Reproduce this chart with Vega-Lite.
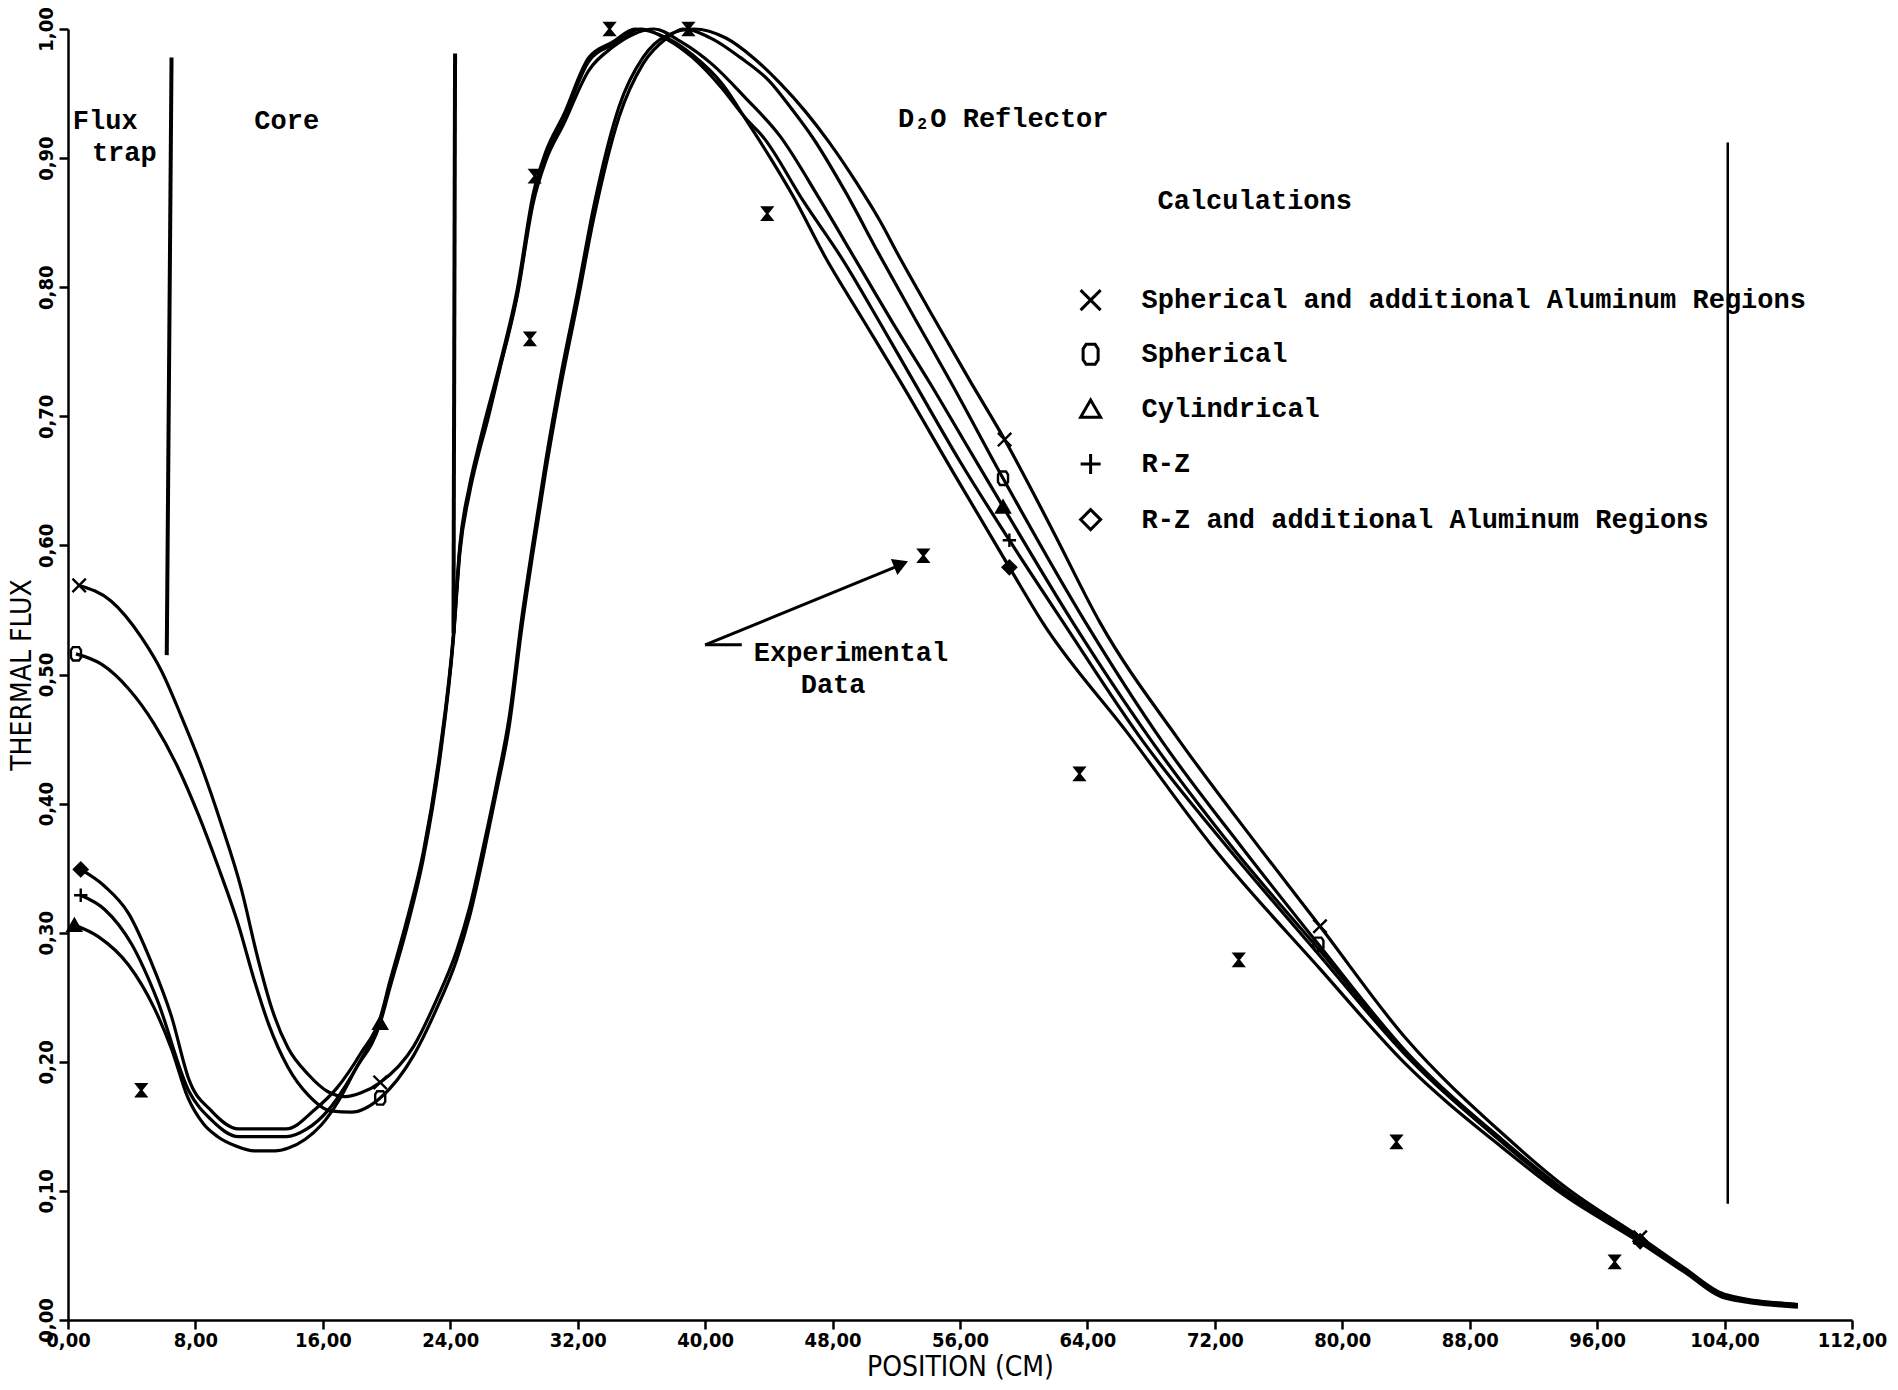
{
  "$schema": "https://vega.github.io/schema/vega-lite/v6.json",
  "width": 1784,
  "height": 1291,
  "autosize": {"type": "none"},
  "padding": {"left": 68, "top": 29, "right": 46, "bottom": 70},
  "background": "white",
  "config": {
    "view": {"stroke": null},
    "axis": {
      "domainColor": "black", "domainWidth": 2.5,
      "tickColor": "black", "tickWidth": 2.5, "tickSize": 9,
      "labelColor": "black", "labelFont": "'Liberation Sans Narrow', 'DejaVu Sans Condensed', sans-serif",
      "labelFontSize": 20, "labelFontWeight": "bold",
      "titleColor": "black", "titleFont": "'Liberation Sans Narrow', 'DejaVu Sans Condensed', sans-serif",
      "titleFontSize": 28, "titleFontWeight": "normal",
      "grid": false, "labelFlush": false, "labelOverlap": false
    }
  },
  "datasets": {
    "curves": [
      {"s":"X","x":0.7,"y":0.569},{"s":"X","x":2.7,"y":0.557},{"s":"X","x":4.6,"y":0.529},{"s":"X","x":5.9,"y":0.502},{"s":"X","x":7.1,"y":0.468},{"s":"X","x":8.4,"y":0.428},{"s":"X","x":9.6,"y":0.385},{"s":"X","x":10.9,"y":0.333},{"s":"X","x":11.9,"y":0.281},{"s":"X","x":12.8,"y":0.241},{"s":"X","x":13.8,"y":0.211},{"s":"X","x":15.1,"y":0.19},{"s":"X","x":16.3,"y":0.177},{"s":"X","x":17.4,"y":0.173},{"s":"X","x":18.4,"y":0.176},{"s":"X","x":19.6,"y":0.184},{"s":"X","x":21.7,"y":0.212},{"s":"X","x":23.1,"y":0.247},{"s":"X","x":24.4,"y":0.286},{"s":"X","x":25.2,"y":0.319},{"s":"X","x":26.1,"y":0.368},{"s":"X","x":26.9,"y":0.415},{"s":"X","x":27.7,"y":0.467},{"s":"X","x":28.5,"y":0.545},{"s":"X","x":29.2,"y":0.603},{"s":"X","x":30.0,"y":0.666},{"s":"X","x":30.9,"y":0.729},{"s":"X","x":32.0,"y":0.797},{"s":"X","x":33.0,"y":0.862},{"s":"X","x":34.6,"y":0.94},{"s":"X","x":36.1,"y":0.978},{"s":"X","x":37.6,"y":0.995},{"s":"X","x":39.3,"y":1.0},{"s":"X","x":41.3,"y":0.993},{"s":"X","x":43.0,"y":0.978},{"s":"X","x":44.7,"y":0.958},{"s":"X","x":46.3,"y":0.936},{"s":"X","x":47.8,"y":0.912},{"s":"X","x":49.5,"y":0.881},{"s":"X","x":50.9,"y":0.853},{"s":"X","x":52.3,"y":0.821},{"s":"X","x":54.5,"y":0.773},{"s":"X","x":56.6,"y":0.728},{"s":"X","x":58.8,"y":0.682},{"s":"X","x":61.8,"y":0.612},{"s":"X","x":64.8,"y":0.54},{"s":"X","x":69.7,"y":0.45},{"s":"X","x":74.6,"y":0.369},{"s":"X","x":78.6,"y":0.305},{"s":"X","x":84.0,"y":0.218},{"s":"X","x":90.0,"y":0.145},{"s":"X","x":94.0,"y":0.103},{"s":"X","x":98.7,"y":0.064},{"s":"X","x":101.5,"y":0.04},{"s":"X","x":104.0,"y":0.02},{"s":"X","x":108.6,"y":0.012},
      {"s":"O","x":0.5,"y":0.516},{"s":"O","x":2.1,"y":0.508},{"s":"O","x":3.8,"y":0.489},{"s":"O","x":5.4,"y":0.462},{"s":"O","x":6.9,"y":0.428},{"s":"O","x":8.2,"y":0.391},{"s":"O","x":9.4,"y":0.352},{"s":"O","x":10.7,"y":0.306},{"s":"O","x":11.7,"y":0.263},{"s":"O","x":12.6,"y":0.229},{"s":"O","x":13.8,"y":0.196},{"s":"O","x":15.1,"y":0.174},{"s":"O","x":16.5,"y":0.162},{"s":"O","x":17.8,"y":0.161},{"s":"O","x":19.6,"y":0.172},{"s":"O","x":21.7,"y":0.205},{"s":"O","x":23.1,"y":0.24},{"s":"O","x":24.4,"y":0.279},{"s":"O","x":25.2,"y":0.312},{"s":"O","x":26.1,"y":0.361},{"s":"O","x":26.9,"y":0.409},{"s":"O","x":27.7,"y":0.46},{"s":"O","x":28.5,"y":0.537},{"s":"O","x":29.2,"y":0.595},{"s":"O","x":30.0,"y":0.658},{"s":"O","x":30.9,"y":0.721},{"s":"O","x":32.0,"y":0.789},{"s":"O","x":33.0,"y":0.853},{"s":"O","x":34.6,"y":0.932},{"s":"O","x":36.1,"y":0.973},{"s":"O","x":37.6,"y":0.993},{"s":"O","x":38.6,"y":1.0},{"s":"O","x":40.5,"y":0.992},{"s":"O","x":42.2,"y":0.978},{"s":"O","x":44.0,"y":0.96},{"s":"O","x":45.5,"y":0.937},{"s":"O","x":46.8,"y":0.915},{"s":"O","x":48.8,"y":0.874},{"s":"O","x":50.9,"y":0.826},{"s":"O","x":53.2,"y":0.775},{"s":"O","x":55.4,"y":0.727},{"s":"O","x":58.7,"y":0.652},{"s":"O","x":63.9,"y":0.54},{"s":"O","x":68.7,"y":0.448},{"s":"O","x":73.7,"y":0.366},{"s":"O","x":78.5,"y":0.291},{"s":"O","x":84.0,"y":0.208},{"s":"O","x":90.0,"y":0.14},{"s":"O","x":94.0,"y":0.1},{"s":"O","x":98.7,"y":0.062},{"s":"O","x":101.5,"y":0.039},{"s":"O","x":104.0,"y":0.019},{"s":"O","x":108.6,"y":0.012},
      {"s":"T","x":0.4,"y":0.306},{"s":"T","x":1.9,"y":0.297},{"s":"T","x":3.8,"y":0.275},{"s":"T","x":5.4,"y":0.242},{"s":"T","x":6.5,"y":0.21},{"s":"T","x":7.5,"y":0.173},{"s":"T","x":8.5,"y":0.152},{"s":"T","x":9.4,"y":0.142},{"s":"T","x":10.5,"y":0.135},{"s":"T","x":11.7,"y":0.131},{"s":"T","x":13.0,"y":0.131},{"s":"T","x":13.8,"y":0.133},{"s":"T","x":14.9,"y":0.14},{"s":"T","x":15.9,"y":0.151},{"s":"T","x":17.0,"y":0.17},{"s":"T","x":18.0,"y":0.193},{"s":"T","x":19.6,"y":0.23},{"s":"T","x":20.2,"y":0.257},{"s":"T","x":21.3,"y":0.305},{"s":"T","x":22.3,"y":0.357},{"s":"T","x":23.35,"y":0.435},{"s":"T","x":24.2,"y":0.528},{"s":"T","x":24.6,"y":0.594},{"s":"T","x":25.2,"y":0.64},{"s":"T","x":25.8,"y":0.672},{"s":"T","x":26.3,"y":0.695},{"s":"T","x":27.1,"y":0.736},{"s":"T","x":28.2,"y":0.793},{"s":"T","x":29.2,"y":0.865},{"s":"T","x":30.0,"y":0.898},{"s":"T","x":31.1,"y":0.926},{"s":"T","x":32.7,"y":0.968},{"s":"T","x":34.2,"y":0.986},{"s":"T","x":35.5,"y":0.996},{"s":"T","x":36.8,"y":1.0},{"s":"T","x":38.5,"y":0.99},{"s":"T","x":40.5,"y":0.972},{"s":"T","x":42.5,"y":0.947},{"s":"T","x":44.7,"y":0.917},{"s":"T","x":47.2,"y":0.868},{"s":"T","x":49.5,"y":0.82},{"s":"T","x":51.8,"y":0.772},{"s":"T","x":54.1,"y":0.726},{"s":"T","x":56.4,"y":0.678},{"s":"T","x":58.7,"y":0.63},{"s":"T","x":63.1,"y":0.54},{"s":"T","x":68.0,"y":0.449},{"s":"T","x":73.1,"y":0.366},{"s":"T","x":78.6,"y":0.286},{"s":"T","x":84.0,"y":0.207},{"s":"T","x":90.0,"y":0.139},{"s":"T","x":94.0,"y":0.099},{"s":"T","x":98.7,"y":0.061},{"s":"T","x":101.5,"y":0.038},{"s":"T","x":104.0,"y":0.018},{"s":"T","x":108.6,"y":0.011},
      {"s":"P","x":0.8,"y":0.329},{"s":"P","x":2.3,"y":0.318},{"s":"P","x":4.0,"y":0.291},{"s":"P","x":5.6,"y":0.248},{"s":"P","x":7.6,"y":0.177},{"s":"P","x":9.0,"y":0.155},{"s":"P","x":10.7,"y":0.142},{"s":"P","x":13.7,"y":0.142},{"s":"P","x":15.0,"y":0.148},{"s":"P","x":16.3,"y":0.162},{"s":"P","x":17.5,"y":0.183},{"s":"P","x":18.4,"y":0.202},{"s":"P","x":19.6,"y":0.232},{"s":"P","x":20.2,"y":0.26},{"s":"P","x":21.3,"y":0.308},{"s":"P","x":22.3,"y":0.36},{"s":"P","x":23.35,"y":0.438},{"s":"P","x":24.2,"y":0.53},{"s":"P","x":24.6,"y":0.597},{"s":"P","x":25.2,"y":0.643},{"s":"P","x":25.8,"y":0.675},{"s":"P","x":26.1,"y":0.69},{"s":"P","x":27.1,"y":0.737},{"s":"P","x":28.2,"y":0.795},{"s":"P","x":29.2,"y":0.868},{"s":"P","x":30.0,"y":0.902},{"s":"P","x":31.1,"y":0.93},{"s":"P","x":32.7,"y":0.975},{"s":"P","x":34.2,"y":0.988},{"s":"P","x":36.0,"y":1.0},{"s":"P","x":37.6,"y":0.992},{"s":"P","x":39.2,"y":0.978},{"s":"P","x":41.0,"y":0.955},{"s":"P","x":42.6,"y":0.93},{"s":"P","x":43.6,"y":0.917},{"s":"P","x":46.2,"y":0.866},{"s":"P","x":48.7,"y":0.82},{"s":"P","x":50.9,"y":0.774},{"s":"P","x":53.0,"y":0.729},{"s":"P","x":56.0,"y":0.665},{"s":"P","x":59.1,"y":0.604},{"s":"P","x":62.5,"y":0.54},{"s":"P","x":67.5,"y":0.448},{"s":"P","x":72.8,"y":0.366},{"s":"P","x":78.6,"y":0.282},{"s":"P","x":84.0,"y":0.205},{"s":"P","x":90.0,"y":0.138},{"s":"P","x":94.0,"y":0.098},{"s":"P","x":98.7,"y":0.061},{"s":"P","x":101.5,"y":0.038},{"s":"P","x":104.0,"y":0.018},{"s":"P","x":108.6,"y":0.011},
      {"s":"D","x":0.8,"y":0.349},{"s":"D","x":2.3,"y":0.336},{"s":"D","x":3.8,"y":0.315},{"s":"D","x":5.2,"y":0.278},{"s":"D","x":6.5,"y":0.235},{"s":"D","x":7.6,"y":0.186},{"s":"D","x":9.0,"y":0.162},{"s":"D","x":10.7,"y":0.148},{"s":"D","x":13.7,"y":0.148},{"s":"D","x":15.5,"y":0.163},{"s":"D","x":16.9,"y":0.18},{"s":"D","x":18.4,"y":0.207},{"s":"D","x":19.6,"y":0.234},{"s":"D","x":20.2,"y":0.262},{"s":"D","x":21.3,"y":0.311},{"s":"D","x":22.3,"y":0.362},{"s":"D","x":23.35,"y":0.441},{"s":"D","x":24.2,"y":0.532},{"s":"D","x":24.6,"y":0.6},{"s":"D","x":25.2,"y":0.646},{"s":"D","x":25.8,"y":0.678},{"s":"D","x":26.1,"y":0.693},{"s":"D","x":27.1,"y":0.74},{"s":"D","x":28.2,"y":0.798},{"s":"D","x":29.2,"y":0.872},{"s":"D","x":30.0,"y":0.905},{"s":"D","x":31.1,"y":0.933},{"s":"D","x":32.7,"y":0.978},{"s":"D","x":34.2,"y":0.99},{"s":"D","x":35.6,"y":1.0},{"s":"D","x":37.6,"y":0.993},{"s":"D","x":39.2,"y":0.98},{"s":"D","x":41.1,"y":0.957},{"s":"D","x":42.6,"y":0.929},{"s":"D","x":44.1,"y":0.9},{"s":"D","x":45.5,"y":0.871},{"s":"D","x":47.6,"y":0.822},{"s":"D","x":49.9,"y":0.775},{"s":"D","x":52.2,"y":0.728},{"s":"D","x":55.6,"y":0.656},{"s":"D","x":59.1,"y":0.583},{"s":"D","x":61.2,"y":0.54},{"s":"D","x":66.5,"y":0.455},{"s":"D","x":71.9,"y":0.366},{"s":"D","x":78.6,"y":0.272},{"s":"D","x":84.0,"y":0.198},{"s":"D","x":90.0,"y":0.134},{"s":"D","x":94.0,"y":0.096},{"s":"D","x":98.7,"y":0.06},{"s":"D","x":101.5,"y":0.037},{"s":"D","x":104.0,"y":0.017},{"s":"D","x":108.6,"y":0.01}
    ],
    "marks": [
      {"s":"X","x":0.7,"y":0.569},{"s":"X","x":19.6,"y":0.184},{"s":"X","x":58.8,"y":0.682},{"s":"X","x":78.6,"y":0.305},{"s":"X","x":98.7,"y":0.064},
      {"s":"O","x":0.5,"y":0.516},{"s":"O","x":19.6,"y":0.172},{"s":"O","x":58.7,"y":0.652},{"s":"O","x":78.5,"y":0.291},
      {"s":"T","x":0.4,"y":0.306},{"s":"T","x":19.6,"y":0.23},{"s":"T","x":58.7,"y":0.63},
      {"s":"P","x":0.8,"y":0.329},{"s":"P","x":59.1,"y":0.604},
      {"s":"D","x":0.8,"y":0.349},{"s":"D","x":59.1,"y":0.583},{"s":"D","x":98.7,"y":0.061}
    ],
    "exp": [
      {"x":4.6,"y":0.178},{"x":29.0,"y":0.76},{"x":29.3,"y":0.886},{"x":34.0,"y":1.0},{"x":38.95,"y":1.0},{"x":43.9,"y":0.857},{"x":53.7,"y":0.592},{"x":63.5,"y":0.423},{"x":73.5,"y":0.279},{"x":83.4,"y":0.138},{"x":97.1,"y":0.045}
    ],
    "legend": [
      {"s":"X","x":64.2,"y":0.79},
      {"s":"O","x":64.2,"y":0.748},
      {"s":"T","x":64.2,"y":0.706},
      {"s":"P","x":64.2,"y":0.663},
      {"s":"D","x":64.2,"y":0.62}
    ],
    "labels": [
      {"x":0.3,"y":0.929,"t":"Flux"},
      {"x":1.5,"y":0.904,"t":"trap"},
      {"x":11.7,"y":0.929,"t":"Core"},
      {"x":52.1,"y":0.93,"t":"D₂O Reflector"},
      {"x":68.4,"y":0.867,"t":"Calculations"},
      {"x":67.4,"y":0.79,"t":"Spherical and additional Aluminum Regions"},
      {"x":67.4,"y":0.748,"t":"Spherical"},
      {"x":67.4,"y":0.706,"t":"Cylindrical"},
      {"x":67.4,"y":0.663,"t":"R-Z"},
      {"x":67.4,"y":0.62,"t":"R-Z and additional  Aluminum Regions"},
      {"x":43.05,"y":0.517,"t":"Experimental"},
      {"x":46.0,"y":0.4915,"t":"Data"}
    ],
    "regions": [
      {"k":"a","x":6.5,"y":0.978,"x2":6.2,"y2":0.515},
      {"k":"a","x":24.3,"y":0.981,"x2":24.2,"y2":0.532},
      {"k":"b","x":104.2,"y":0.912,"x2":104.2,"y2":0.09}
    ],
    "arrow": [
      {"x":40.0,"y":0.523,"x2":52.5,"y2":0.586},
      {"x":40.0,"y":0.523,"x2":42.3,"y2":0.523}
    ],
    "head": [{"x":52.3,"y":0.5855}]
  },
  "encoding": {
    "x": {"field":"x","type":"quantitative","scale":{"domain":[0,112],"nice":false,"zero":false},
      "axis":{"values":[0,8,16,24,32,40,48,56,64,72,80,88,96,104,112],"labelExpr":"replace(format(datum.value,'.2f'),'.',',')","title":"POSITION (CM)","labelPadding":1,"titlePadding":3}},
    "y": {"field":"y","type":"quantitative","scale":{"domain":[0,1],"nice":false,"zero":false},
      "axis":{"values":[0,0.1,0.2,0.3,0.4,0.5,0.6,0.7,0.8,0.9,1.0],"labelExpr":"replace(format(datum.value,'.2f'),'.',',')","labelAngle":270,"title":"THERMAL FLUX","labelPadding":3,"titlePadding":0}}
  },
  "layer": [
    {"data":{"name":"curves"},"mark":{"type":"line","stroke":"black","strokeWidth":3.2,"interpolate":"monotone","strokeJoin":"round"},
     "encoding":{"detail":{"field":"s"}}},
    {"data":{"name":"regions"},"transform":[{"filter":"datum.k == 'a'"}],"mark":{"type":"rule","stroke":"black","strokeWidth":4},
     "encoding":{"x2":{"field":"x2"},"y2":{"field":"y2"}}},
    {"data":{"name":"regions"},"transform":[{"filter":"datum.k == 'b'"}],"mark":{"type":"rule","stroke":"black","strokeWidth":2.5},
     "encoding":{"x2":{"field":"x2"},"y2":{"field":"y2"}}},
    {"data":{"name":"arrow"},"mark":{"type":"rule","stroke":"black","strokeWidth":3},
     "encoding":{"x2":{"field":"x2"},"y2":{"field":"y2"}}},
    {"data":{"name":"head"},"mark":{"type":"point","shape":"triangle-right","angle":-22,"filled":true,"color":"black","size":300,"opacity":1}},
    {"data":{"name":"exp"},"mark":{"type":"point","shape":"M-0.8,-1L0.8,-1L-0.8,1L0.8,1Z","filled":true,"color":"black","stroke":"black","strokeWidth":2,"size":160,"opacity":1}},
    {"data":{"name":"marks"},"mark":{"type":"point","stroke":"black","strokeWidth":2.4,"size":180,"opacity":1},
     "encoding":{
       "shape":{"field":"s","type":"nominal","scale":{"domain":["X","O","T","P","D"],"range":["M-1,-1L1,1M1,-1L-1,1","M-0.45,-1L0.45,-1L0.75,-0.55L0.75,0.55L0.45,1L-0.45,1L-0.75,0.55L-0.75,-0.55Z","triangle-up","M-1,0L1,0M0,-1L0,1","diamond"]},"legend":null},
       "fill":{"field":"s","type":"nominal","scale":{"domain":["X","O","T","P","D"],"range":["transparent","transparent","black","transparent","black"]},"legend":null}}},
    {"data":{"name":"legend"},"mark":{"type":"point","stroke":"black","strokeWidth":3,"size":400,"filled":false,"opacity":1},
     "encoding":{"shape":{"field":"s","type":"nominal","legend":null}}},
    {"data":{"name":"labels"},"mark":{"type":"text","align":"left","baseline":"middle","font":"Liberation Mono","fontSize":27,"fontWeight":"bold","color":"black"},
     "encoding":{"text":{"field":"t"}}}
  ]
}
